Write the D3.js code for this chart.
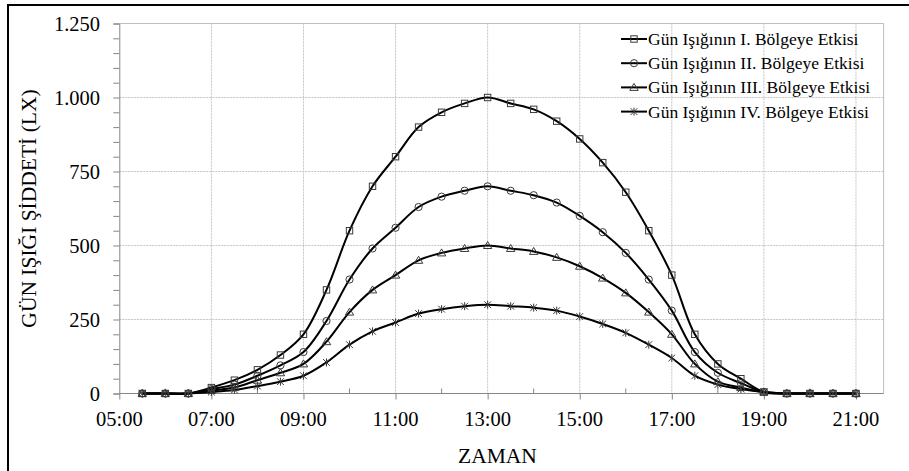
<!DOCTYPE html>
<html>
<head>
<meta charset="utf-8">
<script src="https://cdn.jsdelivr.net/npm/d3@7/dist/d3.min.js"></script>
<style>
  html, body { margin: 0; padding: 0; background: #fff; }
  svg { display: block; }
  text { font-family: "Liberation Serif", "Times New Roman", serif; fill: #000; }
</style>
</head>
<body>
<svg id="chart" width="909" height="471"></svg>
<script>
// Half-hourly readings, 05:30 – 21:00
const times = ["05:30","06:00","06:30","07:00","07:30","08:00","08:30","09:00","09:30","10:00",
  "10:30","11:00","11:30","12:00","12:30","13:00","13:30","14:00","14:30","15:00",
  "15:30","16:00","16:30","17:00","17:30","18:00","18:30","19:00","19:30","20:00","20:30","21:00"];

const bolge1 = [0,0,0,20,45,80,130,200,350,550,700,800,900,950,980,1000,980,960,920,860,780,680,550,400,200,100,50,5,0,0,0,0];
const bolge2 = [0,0,0,15,30,60,95,140,245,385,490,560,630,665,685,700,685,670,645,600,545,475,385,280,140,70,35,5,0,0,0,0];
const bolge3 = [0,0,0,10,20,45,70,100,175,275,350,400,450,475,490,500,490,480,460,430,390,340,275,200,100,40,20,5,0,0,0,0];
const bolge4 = [0,0,0,5,12,25,40,60,105,165,210,240,270,285,295,300,295,290,280,260,235,205,165,120,60,30,15,5,0,0,0,0];

const seriesNames = [
  "Gün Işığının I. Bölgeye Etkisi",
  "Gün Işığının II. Bölgeye Etkisi",
  "Gün Işığının III. Bölgeye Etkisi",
  "Gün Işığının IV. Bölgeye Etkisi"
];
const markerKinds = ["square", "circle", "triangle", "star"];

const xTickLabels = ["05:00","07:00","09:00","11:00","13:00","15:00","17:00","19:00","21:00"];
const yTickValues = [0, 250, 500, 750, 1000, 1250];

const yTitle = "GÜN IŞIĞI ŞİDDETİ (LX)";
const xTitle = "ZAMAN";

// ---- helpers ----
const toHours = s => { const [h, m] = s.split(":").map(Number); return h + m / 60; };
const trLocale = d3.formatLocale({ decimal: ",", thousands: ".", grouping: [3], currency: ["", "₺"] });
const fmtY = trLocale.format(",d");

const svg = d3.select("#chart");

// Plot box
const pLeft = 119.3, pRight = 883.6, pTop = 23.5, pBottom = 393.5;

const x = d3.scaleLinear().domain([5, 21.6]).range([pLeft, pRight]);
const y = d3.scaleLinear().domain([0, 1250]).range([pBottom, pTop]);

// Outer frame
svg.append("path")
  .attr("d", `M8,480 L8,5 L920,5`)
  .attr("fill", "none").attr("stroke", "#000").attr("stroke-width", 2);

// Gridlines
const grid = svg.append("g").attr("stroke", "#c4c4c4").attr("stroke-width", 1).attr("stroke-dasharray", "2,1");
yTickValues.filter(v => v > 0 && v < 1250).forEach(v => {
  grid.append("line").attr("x1", pLeft).attr("x2", pRight).attr("y1", y(v)).attr("y2", y(v));
});
xTickLabels.map(toHours).filter(h => h > 5).forEach(h => {
  grid.append("line").attr("x1", x(h)).attr("x2", x(h)).attr("y1", pTop).attr("y2", pBottom);
});

// Plot border (top / right)
svg.append("path")
  .attr("d", `M${pLeft},${pTop} L${pRight},${pTop} L${pRight},${pBottom}`)
  .attr("fill", "none").attr("stroke", "#bdbdbd").attr("stroke-width", 1);

// Y axis
const yAxis = svg.append("g").attr("transform", `translate(${pLeft},0)`);
yAxis.call(d3.axisLeft(y).tickValues(d3.range(0, 1251, 50)).tickSize(6).tickFormat(""));
yAxis.select(".domain").attr("stroke", "#868686");
yAxis.selectAll(".tick line").attr("stroke", "#868686");
yAxis.selectAll(".tick text").remove();
svg.append("g").selectAll("text").data(yTickValues).join("text")
  .attr("x", 100).attr("y", d => y(d) + 7)
  .attr("text-anchor", "end").attr("font-size", 20.5)
  .text(d => fmtY(d));

// X axis
const xAxis = svg.append("g").attr("transform", `translate(0,${pBottom})`);
const xMajor = xTickLabels.map(toHours);
xAxis.call(d3.axisBottom(x).tickValues(xMajor).tickSize(6).tickFormat(""));
xAxis.select(".domain").attr("stroke", "#868686").attr("d", `M${pLeft},0H${pRight}`);
xAxis.selectAll(".tick line").attr("stroke", "#868686");
// minor ticks on the even hours, pointing into the plot
xAxis.selectAll(".minor").data(d3.range(6, 21, 2)).join("line")
  .attr("class", "minor")
  .attr("x1", d => x(d)).attr("x2", d => x(d)).attr("y1", 0).attr("y2", -5)
  .attr("stroke", "#868686");
svg.append("g").selectAll("text").data(xTickLabels).join("text")
  .attr("x", d => x(toHours(d))).attr("y", 426)
  .attr("text-anchor", "middle").attr("font-size", 20.5)
  .text(d => d);

// Axis titles
svg.append("text")
  .attr("transform", `translate(36,${(pTop + pBottom) / 2}) rotate(-90)`)
  .attr("text-anchor", "middle").attr("font-size", 21.5)
  .text(yTitle);
svg.append("text")
  .attr("x", (pLeft + pRight) / 2 - 4).attr("y", 463)
  .attr("text-anchor", "middle").attr("font-size", 21.5)
  .text(xTitle);

// Marker drawing
function drawMarker(g, kind, cx, cy) {
  const st = { fill: "none", stroke: "#3a3a3a", "stroke-width": 1 };
  let el;
  if (kind === "square") {
    el = g.append("rect").attr("x", cx - 3.2).attr("y", cy - 3.2).attr("width", 6.4).attr("height", 6.4);
  } else if (kind === "circle") {
    el = g.append("circle").attr("cx", cx).attr("cy", cy).attr("r", 3.6);
  } else if (kind === "triangle") {
    el = g.append("path").attr("d", `M${cx},${cy - 4} L${cx + 4.2},${cy + 3} L${cx - 4.2},${cy + 3} Z`);
  } else {
    el = g.append("path").attr("d",
      `M${cx - 3.4},${cy - 3.4} L${cx + 3.4},${cy + 3.4} M${cx - 3.4},${cy + 3.4} L${cx + 3.4},${cy - 3.4} M${cx},${cy - 4} L${cx},${cy + 4}`);
  }
  Object.entries(st).forEach(([k, v]) => el.attr(k, v));
}

// Series
const allSeries = [bolge1, bolge2, bolge3, bolge4];
const hours = times.map(toHours);
const line = d3.line()
  .x((d, i) => x(hours[i]))
  .y(d => y(d))
  .curve(d3.curveCatmullRom.alpha(0.5));

const plot = svg.append("g");
allSeries.forEach((vals, si) => {
  plot.append("path")
    .attr("d", line(vals))
    .attr("fill", "none").attr("stroke", "#000").attr("stroke-width", 2);
});
allSeries.forEach((vals, si) => {
  const g = plot.append("g");
  vals.forEach((v, i) => drawMarker(g, markerKinds[si], x(hours[i]), y(v)));
});

// Legend
const legend = svg.append("g");
seriesNames.forEach((name, i) => {
  const cy = 39 + i * 24.2;
  legend.append("line").attr("x1", 621).attr("x2", 647).attr("y1", cy).attr("y2", cy)
    .attr("stroke", "#000").attr("stroke-width", 2);
  drawMarker(legend, markerKinds[i], 634, cy);
  legend.append("text").attr("x", 648).attr("y", cy + 6)
    .attr("font-size", 17.5).text(name);
});
</script>
</body>
</html>
